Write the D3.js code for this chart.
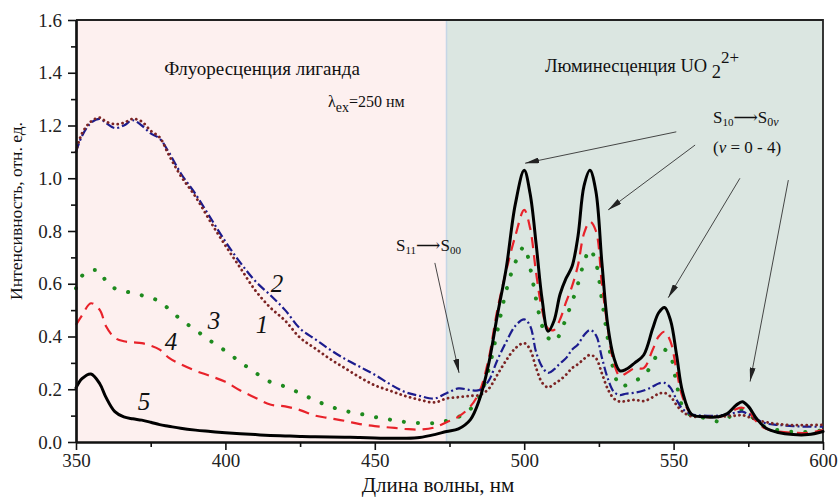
<!DOCTYPE html>
<html>
<head>
<meta charset="utf-8">
<script src="https://cdnjs.cloudflare.com/ajax/libs/d3/7.8.5/d3.min.js"></script>
<style>
  body { margin: 0; background: #fff; }
  svg { display: block; }
  text { font-family: "Liberation Serif", "Times New Roman", "DejaVu Serif", serif; fill: #111; }
  .axis path, .axis line { stroke: #111; }
  .axis text { font-size: 19px; font-family: "Liberation Serif", "Times New Roman", "DejaVu Serif", serif; fill: #222; }
</style>
</head>
<body>
<script>
  // wavelength grid, nm (shared by all five spectra)
  var wavelength = [350, 352, 355, 358, 360, 363, 366, 369, 372, 375, 378, 381, 385, 390, 395, 400,
    405, 410, 415, 420, 425, 430, 435, 440, 445, 450, 455, 460, 465, 470,
    474, 478, 482, 485, 488, 491, 494, 497,
    500, 502, 504, 506, 508, 510, 512, 514, 516, 518, 520, 522, 524, 526, 528, 530, 532, 534,
    537, 540, 543, 545, 547, 549, 551, 553,
    556, 560, 565, 568, 571, 573, 575, 578, 581, 585, 590, 595, 600];

  // 1 - brown dotted
  var curve1 = [1.10, 1.17, 1.215, 1.23, 1.215, 1.205, 1.21, 1.225, 1.215, 1.18, 1.155, 1.09, 1.01, 0.93, 0.835, 0.745,
    0.66, 0.575, 0.51, 0.46, 0.395, 0.355, 0.315, 0.28, 0.245, 0.215, 0.195, 0.175, 0.16, 0.15,
    0.165, 0.17, 0.175, 0.178, 0.2, 0.255, 0.31, 0.355,
    0.375, 0.35, 0.28, 0.225, 0.207, 0.22, 0.235, 0.255, 0.28, 0.295, 0.315, 0.33, 0.318, 0.26, 0.2, 0.165, 0.153, 0.155,
    0.16, 0.155, 0.17, 0.183, 0.186, 0.172, 0.14, 0.115,
    0.097, 0.096, 0.096, 0.098, 0.1, 0.102, 0.095, 0.083, 0.075, 0.068, 0.064, 0.064, 0.065];

  // 2 - navy dash-dot
  var curve2 = [1.10, 1.16, 1.21, 1.225, 1.21, 1.19, 1.2, 1.22, 1.2, 1.17, 1.15, 1.10, 1.02, 0.94, 0.85, 0.76,
    0.68, 0.61, 0.557, 0.5, 0.43, 0.39, 0.35, 0.315, 0.285, 0.255, 0.22, 0.19, 0.175, 0.165,
    0.185, 0.203, 0.197, 0.197, 0.23, 0.31, 0.38, 0.44,
    0.465, 0.44, 0.34, 0.285, 0.262, 0.275, 0.298, 0.318, 0.35, 0.37, 0.405, 0.425, 0.405, 0.32, 0.24, 0.19, 0.178, 0.183,
    0.187, 0.195, 0.21, 0.222, 0.224, 0.205, 0.16, 0.125,
    0.105, 0.1, 0.1, 0.105, 0.112, 0.115, 0.105, 0.085, 0.07, 0.065, 0.06, 0.058, 0.058];

  // 3 - green dotted
  var curve3 = [0.583, 0.63, 0.65, 0.648, 0.61, 0.582, 0.572, 0.565, 0.556, 0.548, 0.532, 0.505, 0.465, 0.425, 0.383, 0.345,
    0.303, 0.263, 0.228, 0.21, 0.185, 0.158, 0.135, 0.118, 0.107, 0.095, 0.085, 0.076, 0.072, 0.072,
    0.08, 0.095, 0.125, 0.17, 0.27, 0.42, 0.575, 0.68,
    0.74, 0.66, 0.54, 0.44, 0.395, 0.38, 0.41, 0.47, 0.53, 0.6, 0.68, 0.73, 0.68, 0.54, 0.39, 0.27, 0.21, 0.215,
    0.232, 0.25, 0.3, 0.34, 0.35, 0.325, 0.22, 0.135,
    0.1, 0.092, 0.078, 0.09, 0.118, 0.122, 0.11, 0.075, 0.055, 0.045, 0.038, 0.038, 0.045];

  // 4 - red dashed
  var curve4 = [0.444, 0.48, 0.526, 0.5, 0.44, 0.395, 0.382, 0.378, 0.375, 0.365, 0.35, 0.32, 0.295, 0.27, 0.25, 0.228,
    0.195, 0.168, 0.142, 0.135, 0.121, 0.1, 0.09, 0.08, 0.068, 0.06, 0.055, 0.05, 0.047, 0.055,
    0.075, 0.096, 0.135, 0.19, 0.31, 0.5, 0.65, 0.78,
    0.88, 0.81, 0.64, 0.5, 0.43, 0.425, 0.465, 0.53, 0.59, 0.67, 0.79, 0.835, 0.8, 0.6, 0.43, 0.3, 0.25, 0.26,
    0.28, 0.28, 0.35, 0.4, 0.418, 0.38, 0.27, 0.17,
    0.105, 0.096, 0.094, 0.105, 0.125, 0.13, 0.115, 0.075, 0.05, 0.04, 0.035, 0.035, 0.045];

  // 5 - black solid
  var curve5 = [0.205, 0.24, 0.258, 0.22, 0.17, 0.115, 0.095, 0.088, 0.083, 0.075, 0.066, 0.06, 0.052, 0.045, 0.04, 0.035,
    0.031, 0.028, 0.025, 0.023, 0.021, 0.02, 0.019, 0.018, 0.017, 0.015, 0.014, 0.014, 0.017, 0.028,
    0.04, 0.05, 0.085, 0.16, 0.29, 0.48, 0.66, 0.9,
    1.03, 0.94, 0.75, 0.54, 0.42, 0.46, 0.56, 0.62, 0.665, 0.78, 0.97, 1.03, 0.95, 0.68, 0.44, 0.32, 0.27, 0.275,
    0.3, 0.33, 0.43, 0.49, 0.51, 0.46, 0.33, 0.19,
    0.105, 0.096, 0.096, 0.108, 0.14, 0.153, 0.135, 0.085, 0.052, 0.036, 0.028, 0.028, 0.04];

  var xTicks = [350, 400, 450, 500, 550, 600];
  var xMinor = [375, 425, 475, 525, 575];
  var yTicks = [0, 0.2, 0.4, 0.6, 0.8, 1.0, 1.2, 1.4, 1.6];
  var yMinor = [0.1, 0.3, 0.5, 0.7, 0.9, 1.1, 1.3, 1.5];
  var regionSplit = 474; // nm, border between the two shaded regions

  var width = 839, height = 497;
  var margin = {top: 20, right: 16, bottom: 55, left: 76};

  var x = d3.scaleLinear().domain([350, 600]).range([margin.left, width - margin.right]);
  var y = d3.scaleLinear().domain([0, 1.6]).range([height - margin.bottom, margin.top]);

  var svg = d3.select("body").append("svg")
      .attr("width", width)
      .attr("height", height);

  svg.append("defs").append("marker")
      .attr("id", "arrow")
      .attr("markerUnits", "userSpaceOnUse")
      .attr("viewBox", "0 0 14 6")
      .attr("refX", 14).attr("refY", 3)
      .attr("markerWidth", 14).attr("markerHeight", 6)
      .attr("orient", "auto")
    .append("path")
      .attr("d", "M0,0L14,3L0,6Z")
      .attr("fill", "#222");

  // shaded regions
  svg.append("rect")
      .attr("x", x(350)).attr("y", y(1.6))
      .attr("width", x(regionSplit) - x(350)).attr("height", y(0) - y(1.6))
      .attr("fill", "#fdf0ef");
  svg.append("rect")
      .attr("x", x(regionSplit)).attr("y", y(1.6))
      .attr("width", x(600) - x(regionSplit)).attr("height", y(0) - y(1.6))
      .attr("fill", "#dbe6e1");
  svg.append("line")
      .attr("x1", x(regionSplit)).attr("x2", x(regionSplit))
      .attr("y1", y(1.6)).attr("y2", y(0))
      .attr("stroke", "#c5d6e6").attr("stroke-width", 1.5);

  // frame (top and right)
  svg.append("path")
      .attr("d", "M" + x(350) + "," + y(1.6) + "H" + x(600) + "V" + y(0))
      .attr("fill", "none").attr("stroke", "#222").attr("stroke-width", 1.8);

  // spectra
  var line = d3.line()
      .x(function(d) { return x(d[0]); })
      .y(function(d) { return y(d[1]); })
      .curve(d3.curveCatmullRom.alpha(0.5));

  var series = [
    {values: curve3, color: "#1e8a1e", width: 4, dash: "0.1,14", cap: "round"},
    {values: curve4, color: "#e8222a", width: 2.2, dash: "11,7", cap: "butt"},
    {values: curve2, color: "#1c1c8e", width: 2.2, dash: "9,3,2,3", cap: "butt"},
    {values: curve1, color: "#7c2424", width: 2.8, dash: "0.1,4.8", cap: "round"},
    {values: curve5, color: "#000", width: 3, dash: null, cap: "round"}
  ];

  svg.selectAll(".spectrum")
    .data(series)
    .enter().append("path")
      .attr("class", "spectrum")
      .attr("d", function(s) { return line(wavelength.map(function(w, i) { return [w, s.values[i]]; })); })
      .attr("fill", "none")
      .attr("stroke", function(s) { return s.color; })
      .attr("stroke-width", function(s) { return s.width; })
      .attr("stroke-dasharray", function(s) { return s.dash; })
      .attr("stroke-linecap", function(s) { return s.cap; })
      .attr("stroke-linejoin", "round");

  // axes
  svg.append("g")
      .attr("class", "x axis")
      .attr("transform", "translate(0," + y(0) + ")")
      .call(d3.axisBottom(x).tickValues(xTicks).tickSize(8).tickSizeOuter(0).tickPadding(4).tickFormat(d3.format("d")));
  svg.append("g")
      .attr("class", "x axis")
      .attr("transform", "translate(0," + y(0) + ")")
      .call(d3.axisBottom(x).tickValues(xMinor).tickSize(5).tickSizeOuter(0).tickFormat(""));

  svg.append("g")
      .attr("class", "y axis")
      .attr("transform", "translate(" + x(350) + ",0)")
      .call(d3.axisLeft(y).tickValues(yTicks).tickSize(8).tickSizeOuter(0).tickPadding(6).tickFormat(d3.format(".1f")));
  svg.append("g")
      .attr("class", "y axis")
      .attr("transform", "translate(" + x(350) + ",0)")
      .call(d3.axisLeft(y).tickValues(yMinor).tickSize(5).tickSizeOuter(0).tickFormat(""));

  svg.selectAll(".axis .domain").attr("stroke-width", 2.2);
  svg.selectAll(".axis .tick line").attr("stroke-width", 1.6);

  svg.append("text")
      .attr("x", 438).attr("y", 492)
      .attr("text-anchor", "middle")
      .style("font-size", "21px")
      .text("Длина волны, нм");

  svg.append("text")
      .attr("transform", "translate(22,211) rotate(-90)")
      .attr("text-anchor", "middle")
      .style("font-size", "17.5px")
      .text("Интенсивность, отн. ед.");

  // region titles
  svg.append("text")
      .attr("x", 262).attr("y", 75)
      .attr("text-anchor", "middle")
      .style("font-size", "19px")
      .text("Флуоресценция лиганда");

  var lam = svg.append("text").attr("x", 328).attr("y", 107).style("font-size", "16px");
  lam.append("tspan").text("λ");
  lam.append("tspan").attr("dy", 5).style("font-size", "14px").text("ex");
  lam.append("tspan").attr("dy", -5).text("=250 нм");

  var uo = svg.append("text").attr("x", 545).attr("y", 72).style("font-size", "18.5px");
  uo.append("tspan").text("Люминесценция UO ");
  uo.append("tspan").attr("dy", 6).text("2");
  uo.append("tspan").attr("dy", -15).style("font-size", "17px").text("2+");

  var s10 = svg.append("text").attr("x", 713).attr("y", 123).style("font-size", "17px");
  s10.append("tspan").text("S");
  s10.append("tspan").attr("dy", 3).style("font-size", "11px").text("10");
  s10.append("tspan").attr("dy", -3).text("⟶S");
  s10.append("tspan").attr("dy", 3).style("font-size", "12px").text("0");
  s10.append("tspan").style("font-size", "12px").style("font-style", "italic").text("ν");

  var nu = svg.append("text").attr("x", 713).attr("y", 153).style("font-size", "17px");
  nu.append("tspan").text("(");
  nu.append("tspan").style("font-style", "italic").text("ν");
  nu.append("tspan").text(" = 0 - 4)");

  var s11 = svg.append("text").attr("x", 396).attr("y", 251).style("font-size", "17px");
  s11.append("tspan").text("S");
  s11.append("tspan").attr("dy", 3).style("font-size", "11px").text("11");
  s11.append("tspan").attr("dy", -3).text("⟶S");
  s11.append("tspan").attr("dy", 3).style("font-size", "11px").text("00");

  // annotation arrows, in data coordinates [nm, intensity]
  var arrows = [
    [[470.1, 0.679], [478.2, 0.262]],
    [[550.9, 1.176], [500.3, 1.057]],
    [[557.2, 1.126], [528.1, 0.880]],
    [[572.2, 1.000], [548.2, 0.547]],
    [[588.4, 0.993], [575.6, 0.229]]
  ];
  svg.selectAll(".arrow")
    .data(arrows)
    .enter().append("line")
      .attr("class", "arrow")
      .attr("x1", function(d) { return x(d[0][0]); })
      .attr("y1", function(d) { return y(d[0][1]); })
      .attr("x2", function(d) { return x(d[1][0]); })
      .attr("y2", function(d) { return y(d[1][1]); })
      .attr("stroke", "#333").attr("stroke-width", 0.9)
      .attr("marker-end", "url(#arrow)");

  // curve numbers
  var labels = [
    {t: "1", x: 262, y: 333},
    {t: "2", x: 277, y: 292},
    {t: "3", x: 214, y: 329},
    {t: "4", x: 171, y: 350},
    {t: "5", x: 144, y: 410}
  ];
  svg.selectAll(".num")
    .data(labels)
    .enter().append("text")
      .attr("class", "num")
      .attr("x", function(d) { return d.x; })
      .attr("y", function(d) { return d.y; })
      .attr("text-anchor", "middle")
      .style("font-size", "25px")
      .style("font-style", "italic")
      .text(function(d) { return d.t; });
</script>
</body>
</html>
